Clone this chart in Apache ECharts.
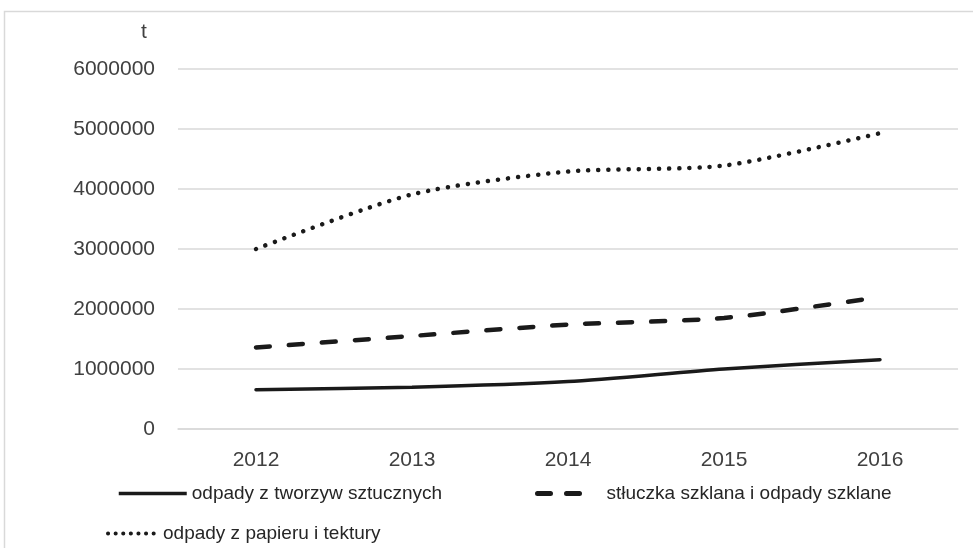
<!DOCTYPE html>
<html>
<head>
<meta charset="utf-8">
<script src="https://cdn.jsdelivr.net/npm/echarts@6/dist/echarts.min.js"></script>
<style>html,body{margin:0;padding:0;background:#fff}#c{width:973px;height:548px}</style>
</head>
<body>
<div id="c"></div>
<script>
var years = ['2012', '2013', '2014', '2015', '2016'];
var plastics = [655000, 695000, 790000, 1000000, 1155000];
var glass = [1360000, 1550000, 1740000, 1850000, 2200000];
var paper = [3000000, 3910000, 4290000, 4390000, 4930000];
var seriesNames = ['odpady z tworzyw sztucznych', 'stłuczka szklana i odpady szklane', 'odpady z papieru i tektury'];
var yTicks = [0, 1000000, 2000000, 3000000, 4000000, 5000000, 6000000];

var FONT = '"Liberation Sans", sans-serif';
var chart = echarts.init(document.getElementById('c'));
var legendText = {fontFamily: FONT, fontSize: 19, color: '#262626'};
var hiddenSymbol = {opacity: 0};
chart.setOption({
  animation: false,
  graphic: [
    {type: 'rect', shape: {x: 4.5, y: 11.5, width: 1200, height: 800}, style: {fill: 'none', stroke: '#d9d9d9', lineWidth: 1.5}, silent: true},
    {type: 'text', left: 141, top: 22, style: {text: 't', font: '21px "Liberation Sans", sans-serif', fill: '#404040'}}
  ],
  grid: {left: 178, right: 15, top: 69, bottom: 119},
  legend: [
    {data: [seriesNames[0]], left: 112, top: 479, itemWidth: 68, itemHeight: 14, itemGap: 0, textStyle: legendText,
      itemStyle: hiddenSymbol, lineStyle: {width: 3.5, type: 'solid', cap: 'butt'}},
    {data: [seriesNames[1]], left: 530, top: 479, itemWidth: 54, itemHeight: 14, textStyle: Object.assign({}, legendText, {padding: [0, 0, 0, 10]}),
      itemStyle: hiddenSymbol, lineStyle: {width: 5, type: [13, 16], cap: 'round'}},
    {data: [seriesNames[2]], left: 101, top: 519, itemWidth: 50, itemHeight: 14, textStyle: legendText,
      itemStyle: hiddenSymbol, lineStyle: {width: 4, type: [0.1, 7.5], cap: 'round'}}
  ],
  xAxis: {
    type: 'category', data: years, boundaryGap: true,
    axisLine: {show: true, lineStyle: {color: '#d9d9d9', width: 1.5}},
    axisTick: {show: false},
    axisLabel: {margin: 21, fontFamily: FONT, fontSize: 21, color: '#404040'}
  },
  yAxis: {
    type: 'value', min: 0, max: 6000000, interval: 1000000,
    axisLine: {show: false}, axisTick: {show: false},
    splitLine: {lineStyle: {color: '#d9d9d9', width: 1.5}},
    axisLabel: {margin: 23, fontFamily: FONT, fontSize: 21, color: '#404040',
      formatter: function (v) { return yTicks.indexOf(v) >= 0 ? String(v) : ''; }}
  },
  series: [
    {name: seriesNames[0], type: 'line', data: plastics, smooth: 0.25, symbol: 'none', color: '#1a1a1a',
      lineStyle: {color: '#1a1a1a', width: 3.5, cap: 'round'}},
    {name: seriesNames[1], type: 'line', data: glass, smooth: 0.25, symbol: 'none', color: '#1a1a1a',
      lineStyle: {color: '#1a1a1a', width: 4.5, type: [14, 19], cap: 'round'}},
    {name: seriesNames[2], type: 'line', data: paper, smooth: 0.25, symbol: 'none', color: '#1a1a1a',
      lineStyle: {color: '#1a1a1a', width: 4.5, type: [0.1, 10], cap: 'round'}}
  ]
});
</script>
</body>
</html>
